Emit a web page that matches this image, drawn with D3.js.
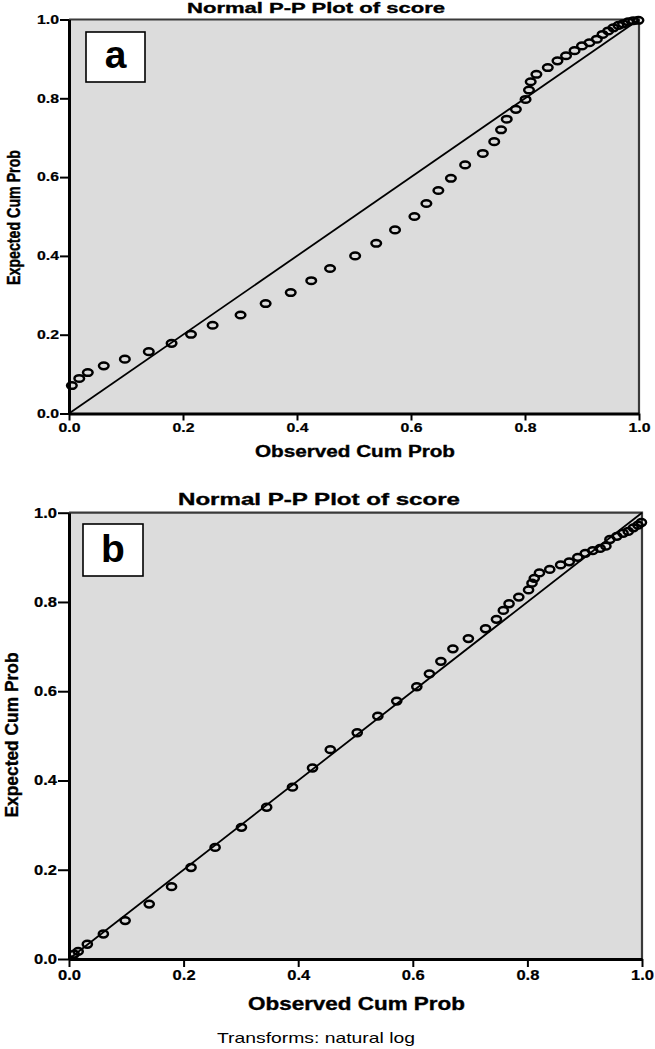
<!DOCTYPE html>
<html><head><meta charset="utf-8">
<script src="https://cdn.jsdelivr.net/npm/d3@7"></script>
<style>body{margin:0;background:#fff}text{font-family:"Liberation Sans",Arial,sans-serif}</style></head>
<body><svg id="c" width="655" height="1049" xmlns="http://www.w3.org/2000/svg"></svg>
<script>
// ---- data ----
const tickValues = [0, 0.2, 0.4, 0.6, 0.8, 1.0];
const titleText = "Normal P-P Plot of score";
const xLabel = "Observed Cum Prob";
const yLabel = "Expected Cum Prob";
const footnote = "Transforms: natural log";
const panelLetters = ["a", "b"];

const obsA = [0.005,0.018,0.033,0.061,0.098,0.140,0.180,0.214,0.252,0.301,0.345,0.389,0.425,0.458,0.502,0.539,0.572,0.606,0.627,0.648,0.670,0.695,0.726,0.746,0.758,0.768,0.784,0.801,0.807,0.810,0.820,0.840,0.857,0.872,0.887,0.900,0.913,0.926,0.936,0.946,0.955,0.964,0.972,0.981,0.990,0.999];
const expA = [0.071,0.089,0.104,0.121,0.138,0.157,0.178,0.201,0.224,0.250,0.279,0.307,0.337,0.368,0.400,0.432,0.466,0.500,0.533,0.566,0.597,0.631,0.660,0.690,0.720,0.747,0.772,0.797,0.821,0.842,0.861,0.878,0.895,0.908,0.921,0.933,0.941,0.950,0.962,0.971,0.979,0.985,0.989,0.994,0.997,0.998];

const obsB = [0.009,0.016,0.032,0.060,0.098,0.140,0.179,0.213,0.255,0.301,0.345,0.390,0.425,0.456,0.503,0.539,0.572,0.607,0.629,0.649,0.670,0.697,0.727,0.746,0.758,0.768,0.785,0.802,0.808,0.812,0.821,0.839,0.858,0.873,0.888,0.901,0.914,0.927,0.937,0.944,0.956,0.967,0.976,0.985,0.993,0.999];
const expB = [0.011,0.017,0.033,0.056,0.086,0.123,0.162,0.205,0.250,0.295,0.340,0.385,0.428,0.469,0.507,0.544,0.578,0.610,0.639,0.667,0.695,0.718,0.740,0.761,0.781,0.796,0.811,0.827,0.842,0.853,0.865,0.873,0.883,0.890,0.900,0.909,0.915,0.920,0.925,0.940,0.947,0.954,0.958,0.966,0.972,0.978];

// ---- drawing ----
const svg = d3.select("#c");
const BG = "#dcdcdc";

function boldText(sel) {
  return sel.attr("font-weight", "bold").attr("stroke", "#000").attr("stroke-width", 0.35);
}

function panel(cfg, obs, exp, letter) {
  const x = d3.scaleLinear().domain([0, 1]).range([cfg.x0, cfg.x1]);
  const y = d3.scaleLinear().domain([0, 1]).range([cfg.y0, cfg.y1]);
  const g = svg.append("g");

  g.append("rect").attr("x", x(0)).attr("y", y(1))
    .attr("width", x(1) - x(0)).attr("height", y(0) - y(1))
    .attr("fill", BG);

  g.append("path")
    .attr("d", `M${x(0)},${y(1)}H${x(1)}V${y(0)}`)
    .attr("fill", "none").attr("stroke", "#3a3a3a").attr("stroke-width", 2.2);

  g.append("line").attr("x1", x(0)).attr("y1", y(0)).attr("x2", x(1)).attr("y2", y(1))
    .attr("stroke", "#000").attr("stroke-width", 1.8);

  g.append("g").selectAll("ellipse").data(obs.map((d, i) => [d, exp[i]]))
    .join("ellipse")
    .attr("cx", d => x(d[0])).attr("cy", d => y(d[1]))
    .attr("rx", cfg.rx).attr("ry", cfg.ry)
    .attr("fill", "none").attr("stroke", "#000").attr("stroke-width", 2.5);

  const ax = g.append("g").attr("transform", `translate(0,${y(0)})`)
    .call(d3.axisBottom(x).tickValues(tickValues).tickFormat(d3.format(".1f")).tickSize(cfg.xt).tickSizeOuter(0));
  const ay = g.append("g").attr("transform", `translate(${x(0)},0)`)
    .call(d3.axisLeft(y).tickValues(tickValues).tickFormat(d3.format(".1f")).tickSize(cfg.yt).tickSizeOuter(0));
  [ax, ay].forEach(a => {
    a.select(".domain").attr("stroke", "#000").attr("stroke-width", 3);
    a.selectAll(".tick line").attr("stroke", "#000").attr("stroke-width", 2);
    boldText(a.selectAll(".tick text").attr("fill", "#000").attr("font-size", cfg.tf)
      .attr("font-family", "Liberation Sans, Arial, sans-serif")
      .attr("textLength", cfg.tw).attr("lengthAdjust", "spacingAndGlyphs"))
      .attr("stroke-width", 0.2);
  });
  ax.selectAll(".tick text").attr("y", cfg.xly).attr("dy", null);
  ay.selectAll(".tick text").attr("x", -cfg.yt - 1);

  boldText(g.append("text").attr("x", cfg.title[0]).attr("y", cfg.title[1])
    .attr("font-size", cfg.title[3])
    .attr("textLength", cfg.title[2]).attr("lengthAdjust", "spacingAndGlyphs"))
    .text(titleText);
  boldText(g.append("text").attr("x", cfg.xl[0]).attr("y", cfg.xl[1])
    .attr("font-size", cfg.xl[3])
    .attr("textLength", cfg.xl[2]).attr("lengthAdjust", "spacingAndGlyphs"))
    .text(xLabel);
  boldText(g.append("text").attr("transform", `translate(${cfg.yl[0]},${cfg.yl[1]}) rotate(-90) scale(1,${cfg.yl[4]})`)
    .attr("text-anchor", "middle")
    .attr("font-size", cfg.yl[3])
    .attr("textLength", cfg.yl[2]).attr("lengthAdjust", "spacingAndGlyphs"))
    .text(yLabel);

  g.append("rect").attr("x", cfg.box[0]).attr("y", cfg.box[1])
    .attr("width", cfg.box[2]).attr("height", cfg.box[3])
    .attr("fill", "#fff").attr("stroke", "#000").attr("stroke-width", 1.6);
  g.append("text").attr("x", cfg.box[0] + cfg.box[2] / 2).attr("y", cfg.letterY)
    .attr("text-anchor", "middle").attr("font-size", cfg.letterF).attr("font-weight", "bold")
    .text(letter);
}

panel({x0: 69, x1: 639, y0: 413.5, y1: 19.5, rx: 4.8, ry: 3.3,
       xt: 7, yt: 9, tf: 12, tw: 22, xly: 18.5,
       title: [187, 12.7, 258, 15.5],
       xl: [255, 456.5, 200, 16],
       yl: [20, 217.5, 135, 14.2, 1.25],
       box: [86, 32, 59, 50], letterY: 68, letterF: 39}, obsA, expA, panelLetters[0]);

panel({x0: 69, x1: 642, y0: 959, y1: 512.7, rx: 4.6, ry: 3.4,
       xt: 8, yt: 11, tf: 14, tw: 23, xly: 21,
       title: [178, 504.5, 282, 16.5],
       xl: [248, 1010, 217, 17.5],
       yl: [18, 735, 165, 17, 1.05],
       box: [83, 524, 60, 52], letterY: 562, letterF: 39}, obsB, expB, panelLetters[1]);

svg.append("text").attr("x", 217).attr("y", 1043)
  .attr("font-size", 14.5).attr("textLength", 198).attr("lengthAdjust", "spacingAndGlyphs")
  .text(footnote);
</script>
</body></html>
